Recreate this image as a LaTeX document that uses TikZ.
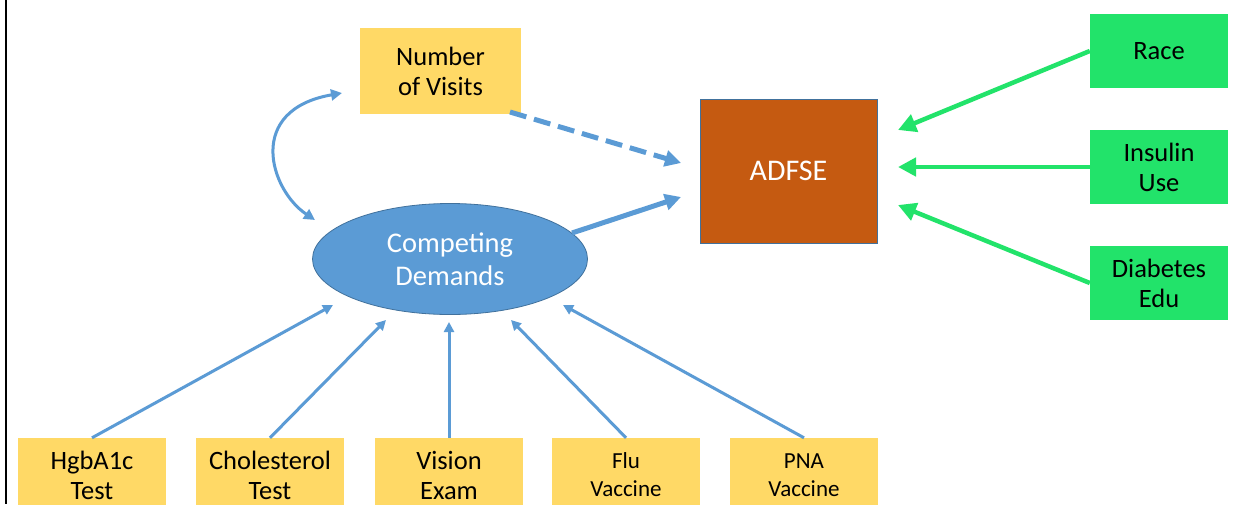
\documentclass[tikz,border=0pt]{standalone}
\usepackage{fontspec}
\setmainfont{Carlito}
\usetikzlibrary{arrows.meta,shapes.geometric}
\definecolor{ygold}{HTML}{FFD966}
\definecolor{rust}{HTML}{C55A11}
\definecolor{grn}{HTML}{22E36A}
\definecolor{blu}{HTML}{5B9BD5}
\definecolor{bdr}{HTML}{41719C}
\begin{document}
\begin{tikzpicture}[x=1pt,y=-1pt,
  txt/.style={font=\fontsize{26.5}{30}\selectfont, align=center, inner sep=0pt},
  ybox/.style={txt, fill=ygold, minimum width=161pt, minimum height=86pt},
  bbox/.style={txt, fill=ygold, minimum width=148pt, minimum height=74pt},
  gbox/.style={txt, fill=grn, minimum width=138pt, minimum height=74pt},
  garrow/.style={draw=grn, line width=4.5pt, -{Triangle[length=18pt,width=18pt]}},
  barrow/.style={draw=blu, line width=3pt, -{Triangle[length=10pt,width=10pt]}},
  tarrow/.style={draw=blu, line width=5pt, -{Triangle[length=16pt,width=16pt]}},
  carrow/.style={draw=blu, line width=3pt, {Triangle[length=11pt,width=11pt]}-{Triangle[length=11pt,width=11pt]}}
]
\clip (0,0) rectangle (1244,504);
\fill[white] (0,0) rectangle (1244,504);
\draw[line width=2pt] (6,0) -- (6,504);

% nodes
\node[ybox] (visits) at (440.5,71) {Number\\of Visits};
\node[txt, ellipse, fill=blu, draw=bdr, line width=0.8pt, text=white,
      minimum width=275pt, minimum height=111pt, font=\fontsize{28.5}{33}\selectfont] (cd) at (450,259) {Competing\\Demands};
\node[txt, fill=rust, draw=bdr, line width=0.8pt, text=white,
      minimum width=177pt, minimum height=144pt, font=\fontsize{30}{32}\selectfont] (adfse) at (788.5,171) {ADFSE};

\node[gbox] (race) at (1159,51) {Race};
\node[gbox] (ins) at (1159,167) {Insulin\\Use};
\node[gbox] (edu) at (1159,283) {Diabetes\\Edu};

\node[bbox] (hgb) at (92,475) {HgbA1c\\Test};
\node[bbox] (chol) at (270,475) {Cholesterol\\Test};
\node[bbox] (vis) at (449,475) {Vision\\Exam};
\node[bbox, font=\fontsize{23}{28}\selectfont] (flu) at (626,475) {Flu\\Vaccine};
\node[bbox, font=\fontsize{23}{28}\selectfont] (pna) at (804,475) {PNA\\Vaccine};

% free ends of connectors
\coordinate (tRace) at (898,130);
\coordinate (tIns) at (898,167);
\coordinate (tEdu) at (898,205);
\coordinate (tDash) at (681,163);
\coordinate (sDash) at (510,112);
\coordinate (sThick) at (572,233);
\coordinate (tThick) at (681,197);
\coordinate (tHgb) at (333,305);
\coordinate (tChol) at (386,320);
\coordinate (tVis) at (449,322);
\coordinate (tFlu) at (511,320);
\coordinate (tPna) at (563,305);
\coordinate (cA) at (342,93);
\coordinate (cB) at (315,220);

% green arrows
\draw[garrow] (race.west) -- (tRace);
\draw[garrow] (ins.west) -- (tIns);
\draw[garrow] (edu.west) -- (tEdu);

% blue arrows into ADFSE
\draw[tarrow, dash pattern=on 17pt off 8pt] (sDash) -- (tDash);
\draw[tarrow] (sThick) -- (tThick);

% curved double arrow
\draw[carrow] (cA) .. controls (245,110) and (270,190) .. (cB);

% bottom arrows
\draw[barrow] (hgb.north) -- (tHgb);
\draw[barrow] (chol.north) -- (tChol);
\draw[barrow] (vis.north) -- (tVis);
\draw[barrow] (flu.north) -- (tFlu);
\draw[barrow] (pna.north) -- (tPna);
\end{tikzpicture}
\end{document}
